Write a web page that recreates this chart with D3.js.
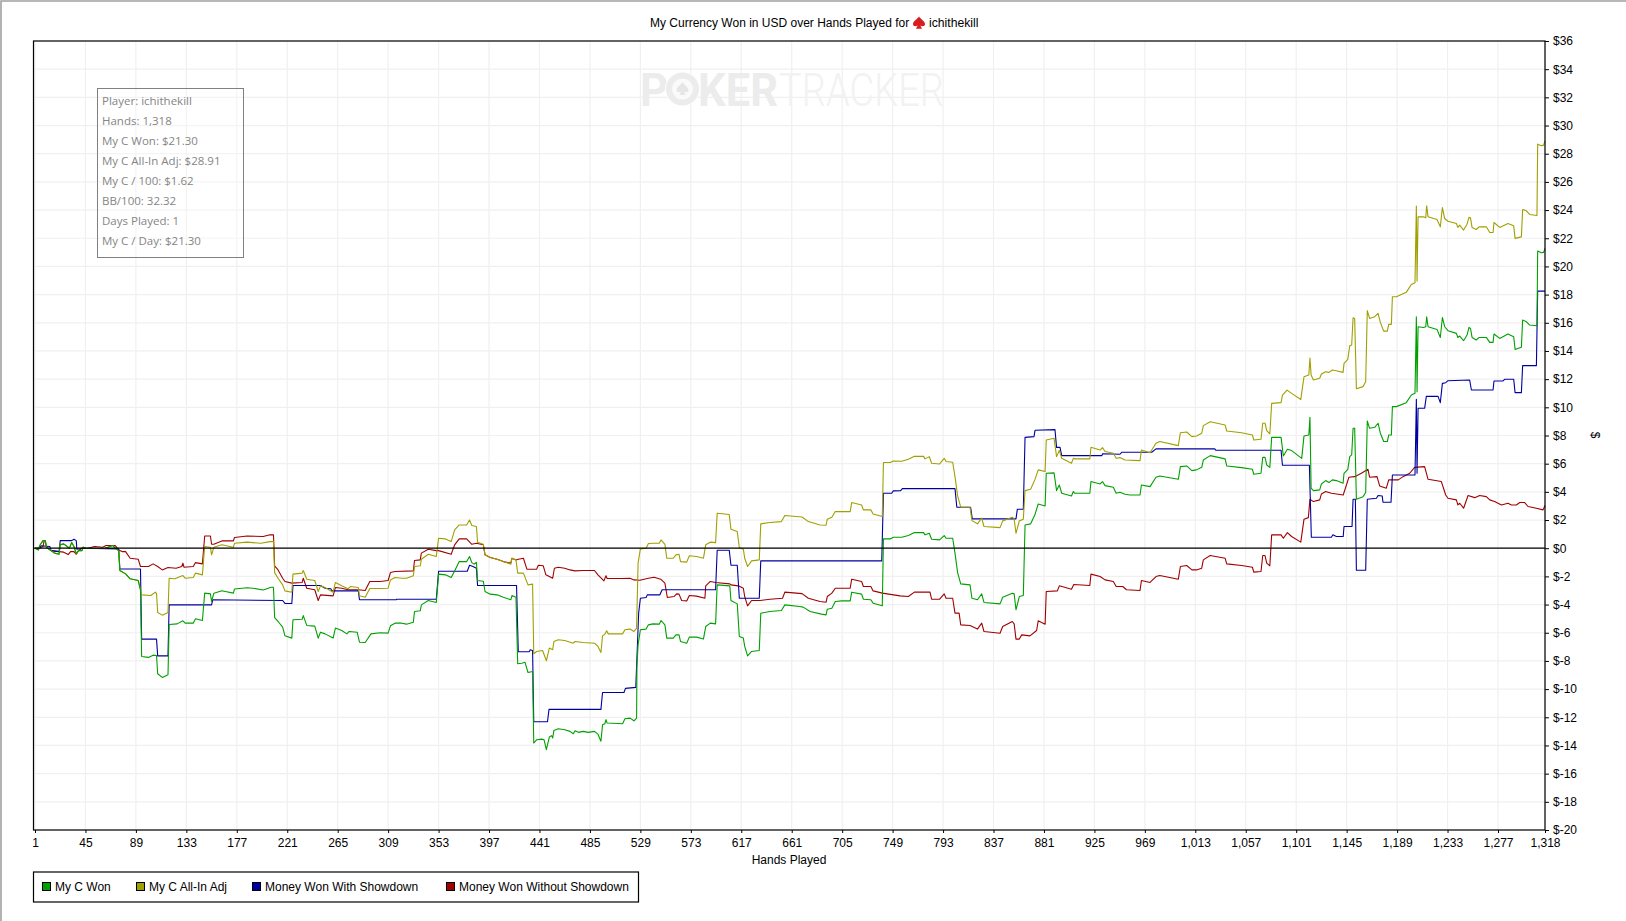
<!DOCTYPE html>
<html>
<head>
<meta charset="utf-8">
<script src="https://cdnjs.cloudflare.com/ajax/libs/d3/7.8.5/d3.min.js"></script>
<style>
html,body{margin:0;padding:0;background:#fff;}
svg{display:block;position:absolute;left:0;top:0;}
text{font-family:"Liberation Sans",Arial,sans-serif;fill:#000;}
</style>
</head>
<body>
<svg id="c" width="1626" height="921"></svg>
<script>
const xTicks = [1,45,89,133,177,221,265,309,353,397,441,485,529,573,617,661,705,749,793,837,881,925,969,1013,1057,1101,1145,1189,1233,1277,1318];
const yTicks = [36,34,32,30,28,26,24,22,20,18,16,14,12,10,8,6,4,2,0,-2,-4,-6,-8,-10,-12,-14,-16,-18,-20];
const titleLeft = "My Currency Won in USD over Hands Played for";
const titleRight = "ichithekill";
const statLines = ["Player: ichithekill","Hands: 1,318","My C Won: $21.30","My C All-In Adj: $28.91","My C / 100: $1.62","BB/100: 32.32","Days Played: 1","My C / Day: $21.30"];
const legendNames = ["My C Won","My C All-In Adj","Money Won With Showdown","Money Won Without Showdown"];
const legendColors = ["#00a000","#a0a000","#0000a0","#a00000"];

const myCWon = [[1,0],[4,-.12],[5,.17],[8,.54],[10,.54],[11,.07],[15,-.17],[18,-.35],[22,-.43],[23,.24],[26,.31],[29,.12],[31,0],[33,.4],[35,.12],[37,-.38],[39,-.17],[42,-.17],[43,.07],[46,-.02],[62,0],[69,.19],[71,0],[74,-.17],[75,-1.58],[80,-1.82],[84,-2.17],[91,-2.29],[93,-2.96],[94,-7.68],[100,-7.75],[104,-7.59],[107,-7.61],[108,-8.91],[112,-9.17],[117,-8.98],[118,-5.41],[125,-5.37],[130,-5.15],[132,-5.32],[139,-5.32],[141,-5.01],[147,-5.13],[149,-3.19],[154,-3.24],[155,-3.78],[157,-3.19],[164,-3.02],[167,-3.07],[174,-3.19],[175,-2.9],[186,-2.81],[191,-2.84],[200,-2.96],[207,-2.77],[209,-2.77],[210,-4.92],[213,-5.2],[217,-5.6],[219,-6.22],[225,-6.38],[226,-5.08],[234,-5.04],[235,-4.78],[238,-5.48],[245,-5.53],[248,-6.38],[250,-5.96],[254,-6.08],[261,-6.38],[263,-5.67],[268.5,-5.84],[273,-6.08],[275,-5.91],[282,-5.96],[284,-6.67],[289,-6.69],[294,-6.08],[302,-6.0],[309,-6.03],[311,-5.51],[315,-5.32],[321,-5.32],[325,-5.39],[331,-5.25],[332,-4.49],[337,-4.44],[338,-4.02],[344,-3.71],[351,-3.85],[353,-1.84],[359,-1.89],[364,-2.08],[367,-1.61],[371,-.95],[377.5,-.95],[380,-.59],[382,-1.02],[384,-1.13],[386,-1],[387,-2.29],[392,-2.34],[393.5,-3.07],[398,-3.26],[404,-3.31],[409.5,-3.48],[416,-3.66],[417,-3.36],[420.5,-3.48],[422,-8.2],[425.5,-8.16],[428.4,-8.1],[431,-8.82],[435,-8.75],[436,-13.83],[438.5,-13.6],[443,-13.55],[445,-13.6],[447,-14.3],[449.6,-13.4],[451.6,-13.3],[452.5,-13.47],[453.6,-12.93],[457.4,-12.81],[463,-12.88],[467.6,-13],[470.5,-13.17],[472,-12.95],[475,-13.07],[479,-13],[483.6,-13.07],[489,-13],[492,-13.2],[494.6,-13.7],[496,-12.53],[498,-12.46],[499,-12.17],[500,-12.41],[513.5,-12.46],[515.5,-12.1],[520,-12.06],[523.4,-12.25],[525.7,-12.06],[526,-8.4],[527,-6.86],[529,-5.79],[534,-5.74],[536,-5.44],[540,-5.37],[545.5,-5.39],[547,-5.13],[550.4,-5.44],[552,-6.38],[557.7,-6.38],[560,-6.15],[562.7,-6.15],[564,-6.62],[569.4,-6.74],[571.7,-6.31],[578,-6.31],[584,-6.45],[586,-5.56],[590,-5.32],[594.6,-5.37],[596,-2.6],[607,-2.67],[608,-3.71],[613.5,-3.95],[615.3,-6.26],[618.8,-6.38],[620,-6.97],[622.5,-7.64],[626,-7.33],[632.7,-7.26],[634,-4.61],[642,-4.49],[652,-4.42],[655,-4.02],[668,-4.14],[671,-4.18],[677,-4.49],[687,-4.68],[691,-4.73],[692,-4.33],[696,-4.26],[699,-3.78],[704.6,-3.74],[712,-3.74],[713.3,-3.12],[722,-3.26],[723.5,-3.62],[730,-3.66],[732,-3.9],[740,-4.09],[741,.66],[747,.66],[749.6,.78],[757,.78],[762.7,.9],[768,1.11],[776,1.11],[777.3,.95],[781,1.06],[783,.64],[790,.59],[794,.9],[795.6,.71],[801.4,.71],[803.4,-.35],[805.7,-1.73],[808.4,-2.53],[816.5,-2.6],[818.2,-3.55],[823,-3.66],[826.7,-3.24],[828.7,-3.85],[842.7,-3.95],[845,-3.48],[853.4,-3.19],[855,-3.24],[856.6,-4.37],[859.5,-3.43],[863,-3.36],[864.5,1.65],[869.4,1.73],[873,2.36],[876,3.14],[882,3],[883,5.32],[889.8,5.35],[892,4.09],[894.4,4.49],[896.5,3.9],[905,3.71],[906.6,4.02],[908,3.9],[921,3.9],[922,4.73],[930,4.56],[932,4.73],[934.3,4.44],[941.5,4.33],[944,3.9],[947.3,3.97],[951.7,3.83],[956,3.78],[964.8,3.78],[966,4.49],[973.5,4.37],[978.7,5.04],[982,5.13],[998.2,4.89],[1000,5.79],[1005.5,5.84],[1010,5.51],[1014,5.56],[1018.6,5.74],[1020,6.26],[1026,6.57],[1039,6.34],[1040.4,5.84],[1053.4,5.72],[1062.8,5.6],[1064,5.25],[1070.3,5.32],[1071.8,6.45],[1073.8,6.45],[1075.3,5.91],[1078,5.74],[1079.6,7.87],[1087.8,7.87],[1089.8,6.55],[1093.3,7.02],[1097,6.93],[1105.8,6.38],[1107.8,7.97],[1112,8.04],[1113,9.29],[1114,4.26],[1116,4.09],[1121.5,4.14],[1123,4.56],[1126.7,4.8],[1129.6,4.66],[1132.5,4.85],[1136,4.8],[1141.9,4.61],[1142.7,5.32],[1146,5.6],[1147.7,6.5],[1149.4,6.62],[1150.6,8.51],[1152,8.51],[1153.5,3.48],[1159.3,3.66],[1161.6,3.95],[1163,9.03],[1165,8.51],[1169.5,8.58],[1172.4,8.87],[1174.4,8.16],[1177.3,7.57],[1180.5,7.57],[1181.7,8.04],[1184,8.04],[1184.9,10.05],[1188.4,10.05],[1197,10.33],[1201.4,10.87],[1204.6,10.99],[1205.8,16.43],[1206.4,11.11],[1207.3,15.72],[1212,15.67],[1214,15.72],[1214.8,16.43],[1216,15.72],[1223.8,15.53],[1226.7,14.96],[1228.5,16.38],[1230.5,15.72],[1233.4,15.44],[1240.7,15.25],[1242,14.96],[1243.6,15.06],[1247,14.73],[1250,15.13],[1251.7,15.67],[1253,15.6],[1254.4,14.96],[1258,14.78],[1260.5,14.96],[1266.8,14.96],[1269.8,14.61],[1272.7,14.61],[1273.5,15.2],[1278.5,14.89],[1285.7,15.2],[1290.7,15.01],[1291.9,14.11],[1297.4,14.26],[1298.5,16.19],[1301.7,16.08],[1304.6,15.84],[1311,15.79],[1311.6,21.09],[1314.8,20.97],[1316.8,21],[1318,21.28]];

const myCAllIn = [[1,0],[4,-.12],[5,.17],[8,.54],[10,.54],[11,.07],[15,-.17],[18,-.35],[22,-.43],[23,.24],[26,.31],[29,.12],[31,0],[33,.4],[35,.12],[37,-.38],[39,-.17],[42,-.17],[43,.07],[46,-.02],[62,0],[69,.19],[71,0],[74,-.17],[75,-1.58],[80,-1.82],[84,-2.17],[91,-2.29],[93,-2.96],[94,-3.31],[102,-3.36],[106,-3.12],[107,-3.24],[108,-4.56],[112,-4.75],[117,-4.56],[118,-2.13],[123,-2.17],[130,-1.94],[132,-2.13],[139,-2.08],[141,-1.77],[147,-1.89],[149,.12],[154,.07],[155,-.47],[157,.07],[164,.24],[167,.19],[174,.07],[175,.35],[186,.43],[198,.35],[206,.47],[209,.47],[210,-1.73],[213,-2.13],[217,-2.6],[219,-3.03],[225,-3.12],[226,-1.84],[234,-1.77],[235,-1.58],[238,-2.2],[245,-2.29],[248,-3.07],[250,-2.67],[254,-2.79],[261,-3.12],[263,-2.43],[268.5,-2.67],[274,-2.88],[276,-2.72],[283,-2.79],[284,-3.38],[289,-3.48],[293,-2.86],[302,-2.86],[309,-2.84],[311,-2.25],[315,-2.08],[321,-2.13],[325,-2.13],[331,-1.96],[332,-1.3],[337,-1.25],[338,-.78],[344,-.43],[351,-.59],[353,.71],[359,.66],[364,.47],[367,1.3],[371,1.65],[377.5,1.65],[380,2.0],[382,1.61],[386,1.54],[387,.43],[392,.28],[393.5,-.47],[398,-.66],[404,-.78],[409.5,-.95],[416,-1.13],[417,-.71],[420.5,-.83],[422,-1.77],[427,-1.77],[431,-2.6],[435,-2.55],[436,-7.49],[438.5,-7.33],[443.7,-7.26],[447,-7.99],[449.6,-7.09],[452.5,-7.21],[453.6,-6.62],[457.4,-6.5],[463,-6.55],[470.5,-6.74],[472,-6.62],[479,-6.69],[489,-6.74],[492,-6.97],[494.6,-7.4],[496,-6.22],[498,-6.1],[499.6,-5.86],[501,-6.08],[513.5,-6.08],[515.5,-5.79],[520,-5.74],[523.4,-5.91],[525.7,-5.67],[527,-1.06],[529,-.05],[534,0],[536,.33],[540,.35],[545.5,.35],[547,.59],[550.4,.28],[552,-.71],[557.7,-.71],[560,-.47],[562.7,-.43],[564,-.95],[569.4,-.99],[571.7,-.54],[578,-.59],[584,-.71],[586,.24],[590,.43],[594.6,.4],[596,2.48],[606.5,2.39],[608,1.35],[613.5,1.18],[615.3,.05],[618.8,-.07],[620,-.71],[622.5,-1.3],[626,-.9],[632.7,-.83],[634,1.73],[642,1.82],[652,1.89],[655,2.32],[670,2.22],[675.5,1.89],[685.7,1.65],[691,1.63],[692,2.06],[696,2.2],[699,2.6],[704.6,2.6],[712,2.6],[713.3,3.24],[722,3.07],[723.5,2.72],[730,2.72],[732,2.43],[740,2.25],[741,6.08],[747,6.08],[749.6,6.19],[757,6.17],[762.7,6.31],[768,6.52],[776,6.52],[777.3,6.34],[781,6.5],[783,6.03],[790,5.98],[794,6.38],[795.6,6.15],[801.4,6.1],[803.4,5.08],[805.7,3.71],[808.4,2.91],[816.5,2.91],[818.2,1.96],[823,1.73],[826.7,2.13],[828.7,1.54],[842.7,1.46],[845,1.94],[853.4,2.2],[855,2.08],[856.6,1.06],[859.5,1.94],[863,2.06],[864.5,4.09],[869.4,4.18],[873,4.85],[876,5.56],[882,5.44],[883,7.68],[889.8,7.8],[892,6.5],[894.4,6.93],[896.5,6.38],[905,6.03],[906.6,6.38],[908,6.34],[921,6.34],[922,7.16],[930,6.97],[932,7.14],[934.3,6.86],[941.5,6.74],[944,6.38],[947.3,6.43],[951.7,6.26],[964.8,6.22],[966,6.97],[973.5,6.78],[978.7,7.45],[982,7.57],[998.2,7.28],[1000,8.2],[1005.5,8.25],[1010,7.92],[1014,7.97],[1018.6,8.16],[1020,8.7],[1026,8.98],[1039,8.75],[1040.4,8.32],[1053.4,8.2],[1062.8,8.04],[1064,7.68],[1070.3,7.73],[1071.8,8.87],[1073.8,8.87],[1075.3,8.35],[1078,8.11],[1079.6,10.28],[1087.8,10.33],[1089,10.87],[1093,11.22],[1097,10.99],[1105,10.56],[1107.8,12.17],[1112,12.29],[1113,13.5],[1114,12.29],[1116,11.94],[1121.5,12.06],[1123,12.36],[1126.7,12.53],[1129.6,12.48],[1132.5,12.65],[1136,12.6],[1141.9,12.48],[1142.7,13.12],[1146,13.4],[1147.7,14.37],[1149.4,14.42],[1150.6,16.36],[1152,16.31],[1153.5,11.32],[1159.3,11.47],[1161.6,11.82],[1163,16.86],[1165,16.31],[1169.5,16.43],[1172.4,16.67],[1174.4,16.03],[1177.3,15.41],[1180.5,15.41],[1181.7,15.89],[1184,15.89],[1184.9,17.85],[1188.4,17.85],[1197,18.16],[1201.4,18.72],[1204.6,18.84],[1205.8,24.28],[1206.4,18.96],[1207.3,23.52],[1212,23.52],[1214,23.45],[1214.8,24.3],[1216,23.52],[1223.8,23.33],[1226.7,22.81],[1228.5,24.18],[1230.5,23.4],[1233.4,23.21],[1240.7,23.05],[1242,22.77],[1243.6,22.93],[1247,22.58],[1250,23],[1251.7,23.48],[1253,23.45],[1254.4,22.77],[1258,22.62],[1260.5,22.81],[1266.8,22.81],[1269.8,22.41],[1272.7,22.41],[1273.5,23.12],[1278.5,22.77],[1285.7,23.05],[1290.7,22.88],[1291.9,21.99],[1297.4,22.1],[1298.5,24.04],[1301.7,23.95],[1304.6,23.69],[1311,23.62],[1311.6,28.68],[1314.8,28.56],[1316.8,28.61],[1318,28.91]];

const wonWithShowdown = [[1,0],[5,0],[6,.17],[14,.12],[15,-.17],[22,-.24],[23,.54],[33,.54],[35,.64],[37,.54],[37.5,-.07],[43,0],[74,-.05],[75,-1.47],[93,-1.47],[94,-6.45],[107,-6.45],[108,-7.64],[117,-7.64],[118,-4.02],[155,-4.02],[156,-3.66],[217,-3.71],[219,-3.92],[225,-3.92],[226,-2.65],[250,-2.65],[254,-2.84],[259,-2.88],[260,-3.03],[283,-3.03],[284,-3.66],[316,-3.66],[316.5,-3.62],[351,-3.62],[353,-1.63],[378,-1.63],[380,-1.21],[383,-1.3],[386,-1.42],[387,-2.65],[421,-2.65],[422.5,-7.35],[432,-7.35],[433,-7.21],[435,-7.26],[436,-12.32],[448,-12.32],[449.3,-11.44],[494.6,-11.44],[496,-10.24],[514.7,-10.24],[516,-9.95],[525,-9.88],[527.5,-4.61],[529,-3.55],[534,-3.5],[535,-3.31],[546,-3.31],[548,-2.95],[594.6,-2.95],[596,-.14],[606.5,-.14],[608,-1.21],[613.5,-1.21],[615.3,-3.55],[632.7,-3.55],[634,-.9],[739.5,-.9],[741,3.9],[748.2,3.9],[749.6,4.07],[756,4.09],[757.5,4.23],[803.4,4.23],[805,2.91],[817,2.91],[818.5,2.08],[856.6,2.08],[857.8,2.77],[863,2.77],[864.5,7.87],[872.3,7.92],[873.2,8.37],[890.6,8.42],[892,7.16],[895,7.16],[896.5,6.57],[931.4,6.57],[932.2,6.71],[947.3,6.67],[948.8,6.81],[975,6.81],[978.7,7.05],[1030,7.05],[1031,6.95],[1087.8,6.95],[1089,5.89],[1112.5,5.89],[1114.2,.78],[1131.7,.78],[1133,.95],[1136,.83],[1142,.83],[1142.7,1.54],[1149.7,1.54],[1150.6,3.48],[1152.6,3.48],[1153.5,-1.56],[1161.6,-1.56],[1163,3.48],[1171,3.55],[1172.4,3.74],[1176,3.71],[1176.7,3.26],[1183.7,3.26],[1184.9,5.2],[1204.6,5.2],[1205.8,10.57],[1206.4,5.32],[1207.3,9.93],[1213,9.93],[1214.5,10.78],[1224.7,10.78],[1226.7,10.33],[1228.5,11.7],[1231.4,11.75],[1233.4,11.89],[1252.3,11.94],[1253.8,11.23],[1272.7,11.23],[1273.5,11.87],[1281.4,11.87],[1282.8,11.99],[1290.7,11.99],[1291.9,11.04],[1297.4,11.04],[1298.5,12.96],[1310.5,12.96],[1311.6,18.25],[1318,18.25]];

const wonWithoutShowdown = [[1,0],[5,0],[8,.12],[9,.54],[10,.47],[11,.07],[15,-.17],[22,-.24],[26,-.28],[30,-.45],[32,-.24],[35,-.24],[37,-.43],[39,-.17],[43,.07],[46,-.02],[53,.12],[60,.07],[63,.19],[71,.19],[74,-.12],[77,-.24],[80,-.24],[84,-.71],[91,-.78],[93,-1.3],[100,-1.3],[104,-1.11],[108,-1.3],[112,-1.54],[117,-1.37],[124,-1.42],[129,-1.3],[130,-1.06],[131,-1.35],[139,-1.3],[141,-1.02],[147,-1.11],[149,.87],[154,.87],[155,.28],[157,.28],[164,.52],[174,.52],[175,.76],[186,.87],[200,.83],[206,.95],[209,.95],[210,-1.25],[213,-1.54],[217,-2.13],[219,-2.36],[225,-2.48],[234,-2.43],[235,-2.13],[238,-2.84],[245,-2.95],[248,-3.71],[250,-3.31],[261,-3.38],[263,-2.79],[268.5,-2.84],[274,-2.95],[283,-2.95],[289,-3],[293,-2.36],[302,-2.36],[309,-2.29],[311,-1.73],[315,-1.65],[331,-1.61],[332,-.87],[337,-.83],[338,-.35],[344,-.07],[351,-.17],[353,-.17],[364,-.43],[367,.24],[371,.66],[377.5,.66],[382,.28],[386,.35],[392,.24],[393.5,-.47],[398,-.66],[404,-.78],[409.5,-.95],[416,-1.06],[417,-.71],[420.5,-.83],[422.6,-.78],[427,-.71],[430,-1.49],[438.5,-1.49],[440,-1.21],[444.3,-1.25],[446.6,-1.89],[452.5,-2.13],[454,-1.42],[457.4,-1.35],[463,-1.42],[467.6,-1.54],[472,-1.61],[479,-1.58],[489,-1.58],[492,-1.89],[497.2,-2.32],[499,-1.96],[500,-2.15],[512.6,-2.15],[520,-2.13],[523.4,-2.25],[528.6,-2.27],[536,-2.13],[541,-2.06],[546.7,-2.2],[550.4,-2.48],[552.5,-3.5],[558.3,-3.43],[560.6,-3.24],[562.7,-3.26],[565,-3.71],[569.4,-3.74],[571.7,-3.36],[578,-3.4],[585.3,-3.55],[586,-2.67],[590,-2.36],[594.6,-2.43],[607,-2.53],[608,-2.6],[614.4,-2.67],[618.8,-2.84],[620,-3.43],[622.5,-4.09],[626,-3.71],[633.3,-3.71],[642,-3.62],[653,-3.55],[655,-3.12],[670,-3.22],[675.5,-3.55],[685.7,-3.78],[691,-3.83],[692,-3.43],[696,-3.19],[699,-2.84],[712,-2.84],[713.3,-2.2],[722,-2.36],[723.5,-2.72],[730,-2.72],[732,-3.03],[740,-3.19],[755.5,-3.38],[762.7,-3.43],[768,-3.12],[781.6,-3.12],[783,-3.62],[790,-3.62],[794,-3.24],[795.6,-3.55],[801.4,-3.55],[803.4,-4.61],[807,-4.61],[808.4,-5.44],[816.5,-5.48],[823,-5.74],[826.7,-5.32],[828.7,-5.91],[842.7,-6.03],[845,-5.56],[853.4,-5.2],[855,-5.37],[856.6,-6.45],[859.5,-6.45],[861.6,-6.15],[868.8,-6.22],[874.6,-5.84],[876,-5.15],[882,-5.39],[883,-3.07],[892.7,-3.03],[894.4,-2.67],[905,-2.91],[907,-2.58],[921,-2.65],[922,-1.84],[930,-2.01],[934.3,-2.25],[941.5,-2.36],[944,-2.72],[949.7,-2.72],[953,-2.95],[964.8,-3],[966,-2.29],[973.5,-2.43],[978.7,-2.01],[982,-1.94],[998.2,-2.2],[1000,-1.3],[1005.5,-1.23],[1010,-1.54],[1014,-1.54],[1018.6,-1.42],[1020,-.83],[1026,-.52],[1039,-.71],[1040.4,-1.11],[1053.4,-1.23],[1062.8,-1.35],[1064,-1.7],[1070.3,-1.65],[1071.8,-.52],[1073.8,-.52],[1075.3,-1.06],[1078,-1.25],[1079.6,.95],[1087.8,.95],[1089.8,.71],[1093.3,1.11],[1097,.83],[1105,.43],[1107.8,2.06],[1111.6,2.17],[1113,3.48],[1116,3.31],[1121.5,3.43],[1123,3.85],[1126.7,4.02],[1131.7,3.9],[1142,3.78],[1147,5.04],[1152,5.08],[1157.8,5.32],[1163.6,5.6],[1165,5.04],[1171.5,5.08],[1173.8,4.42],[1179.6,4.26],[1181.7,4.85],[1190,4.85],[1194.2,5.08],[1200,5.32],[1204.3,5.74],[1213,5.79],[1216,4.89],[1227.6,4.73],[1231.4,3.78],[1233.4,3.55],[1240.7,3.43],[1242,3.07],[1243.6,3.19],[1247,2.84],[1250.9,3.74],[1256.7,3.59],[1261,3.74],[1266.8,3.66],[1269.8,3.43],[1274,3.31],[1280,3.07],[1285.7,3.19],[1288.7,3.07],[1293,3.07],[1296,3.24],[1300.3,3.24],[1303.2,2.96],[1310.5,2.84],[1316.3,2.72],[1318,3.03]];

const L=33.5, R=1545, T=41, B=830;
const svg = d3.select("#c");
const x = d3.scaleLinear().domain([1,1318]).range([35,R]);
const y = d3.scaleLinear().domain([-20,36]).range([B,T]);

// window edge
svg.append("path").attr("d","M1,921V1H1626").attr("fill","none").attr("stroke","#a0a0a0").attr("stroke-width",1.6);

// grid
const grid = svg.append("g").attr("stroke","#f0f0f0").attr("stroke-width",1.2);
grid.selectAll("line.h").data(yTicks).join("line").attr("x1",L).attr("x2",R).attr("y1",d=>y(d)).attr("y2",d=>y(d));
grid.selectAll("line.v").data(xTicks).join("line").attr("x1",d=>x(d)).attr("x2",d=>x(d)).attr("y1",T).attr("y2",B);

// watermark
svg.append("text").attr("x",640).attr("y",106).attr("font-size",47).attr("font-weight",700)
  .attr("textLength",138).attr("lengthAdjust","spacingAndGlyphs")
  .style("font-family","Roboto").style("fill","#ececec").text("POKER");
svg.append("text").attr("x",779).attr("y",106).attr("font-size",47).attr("font-weight",300)
  .attr("textLength",165).attr("lengthAdjust","spacingAndGlyphs")
  .style("font-family","Roboto").style("fill","#f2f2f2").text("TRACKER");
svg.append("circle").attr("cx",682.5).attr("cy",89).attr("r",17).attr("fill","#ececec").attr("stroke","#fff").attr("stroke-width",1);
svg.append("circle").attr("cx",682.5).attr("cy",89).attr("r",10.5).attr("fill","#fafafa");
svg.append("path").attr("transform","translate(682.5,89)")
  .attr("d","M0,-7C1.5,-4.2 6,-2 6,1.2C6,3.4 3.4,4 1.4,2.6L3,6H-3L-1.4,2.6C-3.4,4 -6,3.4 -6,1.2C-6,-2 -1.5,-4.2 0,-7Z")
  .attr("fill","#e6e6e6");

// stats box
svg.append("rect").attr("x",97.5).attr("y",88.5).attr("width",146).attr("height",169)
  .attr("fill","rgba(255,255,255,0.3)").attr("stroke","#808080").attr("stroke-width",1);
svg.append("g").selectAll("text").data(statLines).join("text")
  .attr("x",102).attr("y",(d,i)=>105+i*20).attr("font-size",11.5)
  .style("font-family","'Open Sans'").style("fill","#858585").text(d=>d);

// series, bottom to top
const line = d3.line().x(d=>x(d[0])).y(d=>y(d[1]));
const series = [[wonWithoutShowdown,3],[wonWithShowdown,2],[myCAllIn,1],[myCWon,0]];
svg.append("g").selectAll("path").data(series).join("path")
  .attr("d",d=>line(d[0])).attr("fill","none")
  .attr("stroke",d=>legendColors[d[1]]).attr("stroke-width",1.1).attr("stroke-linejoin","round");

// zero line
svg.append("line").attr("x1",L).attr("x2",R).attr("y1",y(0)).attr("y2",y(0)).attr("stroke","#000").attr("stroke-width",1.2);

// frame
svg.append("rect").attr("x",L).attr("y",T).attr("width",R-L).attr("height",B-T).attr("fill","none").attr("stroke","#000").attr("stroke-width",1.2);

// axes
const ax = svg.append("g").attr("transform",`translate(0,${B})`)
  .call(d3.axisBottom(x).tickValues(xTicks).tickFormat(d3.format(",")).tickSize(3).tickPadding(5));
const ay = svg.append("g").attr("transform",`translate(${R},0)`)
  .call(d3.axisRight(y).tickValues(yTicks).tickFormat(d=>"$"+d).tickSize(4).tickPadding(4));
[ax,ay].forEach(g=>{
  g.select(".domain").remove();
  g.selectAll("line").attr("stroke","#000");
  g.selectAll("text").attr("font-size",12).style("font-family","'Liberation Sans'").style("fill","#000");
});

// axis names and title
svg.append("text").attr("x",789).attr("y",864).attr("text-anchor","middle").attr("font-size",12).text("Hands Played");
svg.append("text").attr("transform","translate(1591,435) rotate(90)").attr("text-anchor","middle").attr("font-size",12).text("$");
svg.append("text").attr("x",650).attr("y",27).attr("font-size",12).text(titleLeft);
svg.append("text").attr("x",929).attr("y",27).attr("font-size",12.2).text(titleRight);
svg.append("path").attr("transform","translate(919,23)")
  .attr("d","M0,-6.5C1.5,-4 6,-1.8 6,1.2C6,3.2 3.4,3.8 1.4,2.4L3,5.8H-3L-1.4,2.4C-3.4,3.8 -6,3.2 -6,1.2C-6,-1.8 -1.5,-4 0,-6.5Z")
  .attr("fill","#d91c1c");

// legend
svg.append("rect").attr("x",33.5).attr("y",872).attr("width",605).attr("height",30).attr("fill","#fff").attr("stroke","#000").attr("stroke-width",1.2);
const legX = [42,136,252,446];
const leg = svg.append("g").selectAll("g").data(legendNames).join("g").attr("transform",(d,i)=>`translate(${legX[i]},0)`);
leg.append("rect").attr("x",0.5).attr("y",882.5).attr("width",8).attr("height",8)
  .attr("fill",(d,i)=>legendColors[i]).attr("stroke","#000").attr("stroke-width",1);
leg.append("text").attr("x",13).attr("y",891).attr("font-size",12).text(d=>d);
</script>
</body>
</html>
